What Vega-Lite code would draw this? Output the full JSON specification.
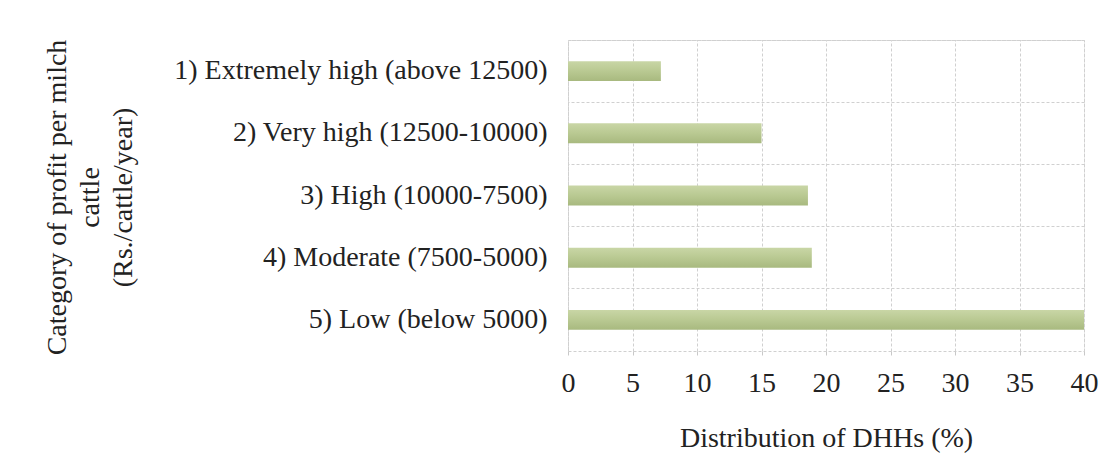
{
  "$schema": "https://vega.github.io/schema/vega-lite/v6.json",
  "autosize": {"type": "none"},
  "padding": {"left": 568, "top": 40, "right": 36, "bottom": 122},
  "width": 516,
  "height": 311,
  "background": "white",
  "data": {
    "values": [
      {"category": "1) Extremely high (above 12500)", "pct": 7.2},
      {"category": "2) Very high (12500-10000)", "pct": 15.0},
      {"category": "3) High (10000-7500)", "pct": 18.6},
      {"category": "4) Moderate (7500-5000)", "pct": 18.9},
      {"category": "5) Low (below 5000)", "pct": 40.0}
    ]
  },
  "layer": [
    {
      "mark": {"type": "bar", "opacity": 0, "height": {"band": 0.32}},
      "encoding": {
        "y": {
          "field": "category", "type": "nominal", "sort": null,
          "scale": {"paddingInner": 0, "paddingOuter": 0},
          "axis": {"orient": "right", "grid": true, "bandPosition": 0, "labels": false, "ticks": false, "domain": false, "title": null,
                   "gridColor": "#d0d0d0", "gridDash": [3, 2], "gridWidth": 1}
        },
        "x": {
          "field": "pct", "type": "quantitative",
          "scale": {"domain": [0, 40], "nice": false},
          "axis": {
            "values": [0, 5, 10, 15, 20, 25, 30, 35, 40],
            "grid": true, "gridColor": "#d0d0d0", "gridDash": [3, 2],
            "domain": false, "ticks": true, "tickColor": "#c8c8c8", "tickSize": 4,
            "labelFlush": false,
            "labelFont": "Times New Roman, Liberation Serif, serif", "labelFontSize": 28, "labelColor": "#222222", "labelPadding": 14,
            "title": "Distribution of DHHs  (%)",
            "titleFont": "Times New Roman, Liberation Serif, serif", "titleFontSize": 28, "titleFontWeight": "normal", "titleColor": "#222222",
            "titlePadding": 27
          }
        }
      }
    },
    {
      "mark": {
        "type": "bar",
        "height": {"band": 0.32},
        "fill": {
          "gradient": "linear", "x1": 0, "y1": 0, "x2": 0, "y2": 1,
          "stops": [
            {"offset": 0, "color": "#c9d6a6"},
            {"offset": 0.5, "color": "#b9c992"},
            {"offset": 1, "color": "#a8b97f"}
          ]
        }
      },
      "encoding": {
        "y": {
          "field": "category", "type": "nominal", "sort": null,
          "scale": {"paddingInner": 0, "paddingOuter": 0},
          "axis": {
            "orient": "left", "grid": false, "ticks": false, "domain": false,
            "labelFont": "Times New Roman, Liberation Serif, serif", "labelFontSize": 28, "labelColor": "#222222", "labelPadding": 21, "labelLimit": 600,
            "title": ["Category of profit per milch", "cattle", "(Rs./cattle/year)"],
            "titleFont": "Times New Roman, Liberation Serif, serif", "titleFontSize": 28, "titleFontWeight": "normal", "titleColor": "#222222",
            "titleLineHeight": 33, "titleBaseline": "middle", "titleX": -511, "titleY": 157, "titleAlign": "center"
          }
        },
        "x": {"field": "pct", "type": "quantitative"}
      }
    }
  ],
  "resolve": {"axis": {"y": "independent"}},
  "config": {
    "view": {"stroke": "#d0d0d0", "strokeDash": [3, 2]}
  }
}
